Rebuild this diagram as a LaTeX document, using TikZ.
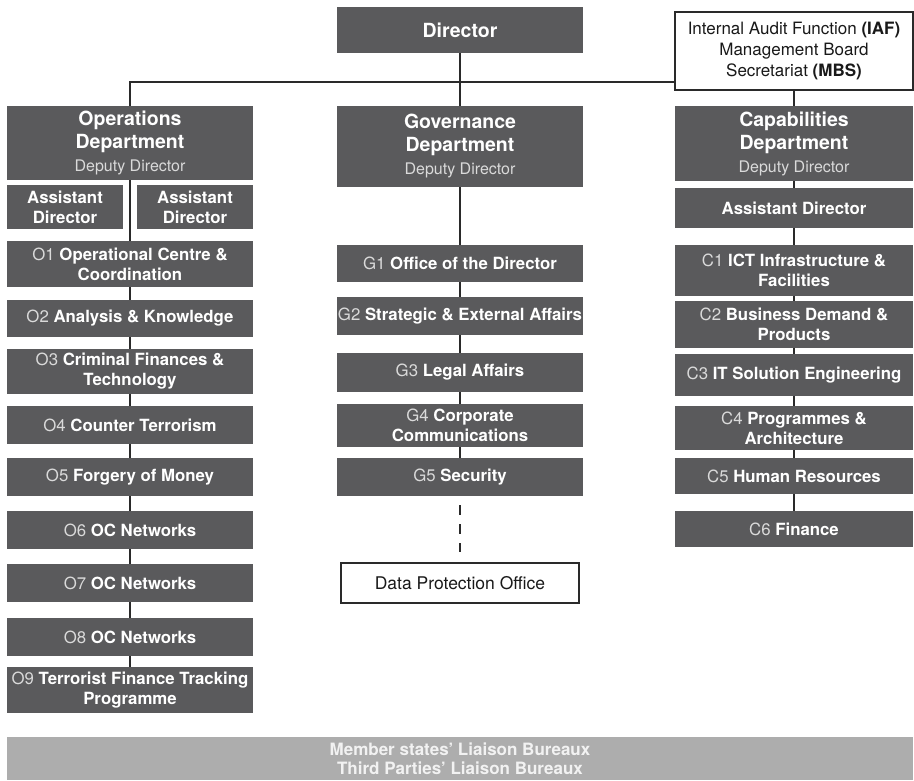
\documentclass[tikz,border=0pt]{standalone}
\usepackage{fontspec}
\setmainfont{TeX Gyre Heros}
\definecolor{boxgray}{HTML}{5A5A5C}
\definecolor{bandgray}{HTML}{ADADAD}
\definecolor{palegray}{HTML}{DADADA}
\definecolor{linkgray}{HTML}{2A2A2A}
\tikzset{>=stealth}
\tikzset{
  unit/.style={fill=boxgray, text=white, inner sep=0pt, align=center,
    font=\bfseries\fontsize{16.8}{20}\selectfont},
  dept/.style={unit, font=\bfseries\fontsize{19.5}{23}\selectfont},
  plainbox/.style={draw=linkgray, fill=white, text=black!90, inner sep=0pt, align=center,
    font=\fontsize{17}{21}\selectfont},
  band/.style={fill=bandgray, text=white!95!black, inner sep=0pt, align=center,
    font=\bfseries\fontsize{17}{19}\selectfont},
  link/.style={draw=linkgray, line width=1.5pt},
}
\newcommand{\code}[1]{{\mdseries\color{palegray}#1}}
\newcommand{\deputy}{{\mdseries\fontsize{16}{20}\selectfont\color{palegray}Deputy Director}}

\begin{document}
\begin{tikzpicture}[x=1pt, y=-1pt]
    \useasboundingbox (0,0) rectangle (914,780);
    \clip (0,0) rectangle (914,780);

    \node[dept, minimum width=246pt, minimum height=46pt] (dir) at (460,30) {Director};
    \node[plainbox, line width=1.2pt, minimum width=238pt, minimum height=78pt] (iaf) at (794,51)
        {Internal Audit Function \textbf{(IAF)}\\Management Board\\Secretariat \textbf{(MBS)}};

    % operations column
    \node[dept, minimum width=246pt, minimum height=74pt] (ops) at (130,143) {Operations\\Department\\\deputy};
    \node[unit, minimum width=116pt, minimum height=44pt] (ad1) at (65,207) {Assistant\\Director};
    \node[unit, minimum width=116pt, minimum height=44pt] (ad2) at (195,207) {Assistant\\Director};
    \node[unit, minimum width=246pt, minimum height=46pt] (o1) at (130,264) {\code{O1} Operational Centre \&\\Coordination};
    \node[unit, minimum width=246pt, minimum height=37pt] (o2) at (130,318.5) {\code{O2} Analysis \& Knowledge};
    \node[unit, minimum width=246pt, minimum height=45pt] (o3) at (130,371.5) {\code{O3} Criminal Finances \&\\Technology};
    \node[unit, minimum width=246pt, minimum height=38pt] (o4) at (130,425) {\code{O4} Counter Terrorism};
    \node[unit, minimum width=246pt, minimum height=38pt] (o5) at (130,477) {\code{O5} Forgery of Money};
    \node[unit, minimum width=246pt, minimum height=38pt] (o6) at (130,530) {\code{O6} OC Networks};
    \node[unit, minimum width=246pt, minimum height=38pt] (o7) at (130,583) {\code{O7} OC Networks};
    \node[unit, minimum width=246pt, minimum height=38pt] (o8) at (130,637) {\code{O8} OC Networks};
    \node[unit, minimum width=246pt, minimum height=46pt] (o9) at (130,690) {\code{O9} Terrorist Finance Tracking\\Programme};

    % governance column
    \node[dept, minimum width=246pt, minimum height=81pt] (gov) at (460,146.5) {Governance\\Department\\\deputy};
    \node[unit, minimum width=246pt, minimum height=37pt] (g1) at (460,263.5) {\code{G1} Office of the Director};
    \node[unit, minimum width=246pt, minimum height=38pt] (g2) at (460,316) {\code{G2} Strategic \& External Affairs};
    \node[unit, minimum width=246pt, minimum height=39pt] (g3) at (460,372.5) {\code{G3} Legal Affairs};
    \node[unit, minimum width=246pt, minimum height=43pt] (g4) at (460,425.5) {\code{G4} Corporate\\Communications};
    \node[unit, minimum width=246pt, minimum height=38pt] (g5) at (460,477) {\code{G5} Security};
    \node[plainbox, line width=2.2pt, minimum width=238pt, minimum height=40pt,
        font=\fontsize{17.5}{21}\selectfont] (dpo) at (460,583) {Data Protection Office};

    % capabilities column
    \node[dept, minimum width=238pt, minimum height=75pt] (cap) at (794,143.5) {Capabilities\\Department\\\deputy};
    \node[unit, minimum width=238pt, minimum height=40pt] (cad) at (794,208) {Assistant Director};
    \node[unit, minimum width=238pt, minimum height=51pt] (c1) at (794,270.5) {\code{C1} ICT Infrastructure \&\\Facilities};
    \node[unit, minimum width=238pt, minimum height=47pt] (c2) at (794,324.5) {\code{C2} Business Demand \&\\Products};
    \node[unit, minimum width=238pt, minimum height=42pt] (c3) at (794,375) {\code{C3} IT Solution Engineering};
    \node[unit, minimum width=238pt, minimum height=44pt] (c4) at (794,428) {\code{C4} Programmes \&\\Architecture};
    \node[unit, minimum width=238pt, minimum height=36pt] (c5) at (794,476) {\code{C5} Human Resources};
    \node[unit, minimum width=238pt, minimum height=36pt] (c6) at (794,529) {\code{C6} Finance};

    \node[band, minimum width=906pt, minimum height=43pt] (liaison) at (460,758.5)
        {Member states' Liaison Bureaux\\Third Parties' Liaison Bureaux};

    % connectors
    \coordinate (bus) at (130,82);
    \draw[link] (dir) -- (gov);
    \draw[link] (ops.north) -- (bus) -- (bus -| iaf.west);
    \draw[link] (iaf) -- (cap);
    \foreach \a/\b in {ops/o1, o1/o2, o2/o3, o3/o4, o4/o5, o5/o6, o6/o7, o7/o8, o8/o9}
        \draw[link] (\a) -- (\b);
    \foreach \a/\b in {gov/g1, g1/g2, g2/g3, g3/g4, g4/g5}
        \draw[link] (\a) -- (\b);
    \foreach \a/\b in {cap/cad, cad/c1, c1/c2, c2/c3, c3/c4, c4/c5, c5/c6}
        \draw[link] (\a) -- (\b);
    \draw[link, dash pattern=on 10pt off 9pt] ([yshift=-9pt]g5.south) -- ([yshift=10pt]dpo.north);
\end{tikzpicture}
\end{document}
